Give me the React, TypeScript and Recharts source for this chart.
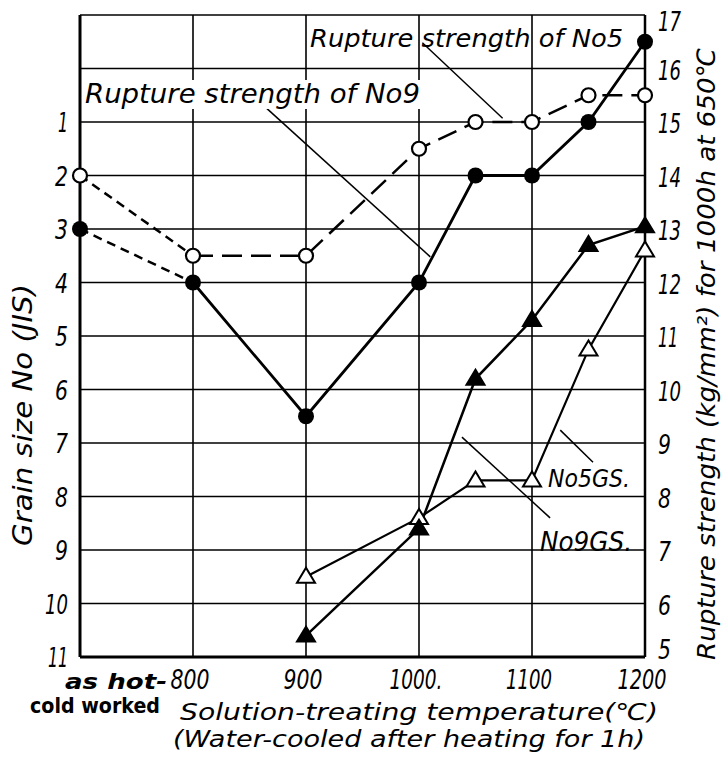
import React from 'react';
import { LineChart, Line, XAxis, YAxis, CartesianGrid, ReferenceLine } from 'recharts';

// 700 stands for "as hot-cold worked"
const TEMPS = [700, 800, 900, 1000, 1050, 1100, 1150, 1200];
const RS_NO5 = [14, 12.5, 12.5, 14.5, 15, 15, 15.5, 15.5];
const RS_NO9 = [13, 12, 9.5, 12, 14, 14, 15, 16.5];
const GS_NO5 = [null, null, 9.5, 8.4, 7.7, 7.7, 5.25, 3.4];
const GS_NO9 = [null, null, 10.6, 8.6, 5.8, 4.7, 3.3, 2.95];

const X_TICKS = [700, 800, 900, 1000, 1100, 1200];
const X_TICK_LABELS = ['as hot-', '800', '900', '1000.', '1100', '1200'];
const GRAIN_TICKS = [1, 2, 3, 4, 5, 6, 7, 8, 9, 10, 11];
const STRENGTH_TICKS = [5, 6, 7, 8, 9, 10, 11, 12, 13, 14, 15, 16, 17];

// leader lines of the notes, in (temperature, strength) units
const LEADERS = [
  [{ x: 1003, y: 16.48 }, { x: 1074, y: 15.07 }],
  [{ x: 865, y: 15.26 }, { x: 1010, y: 12.48 }],
  [{ x: 1125, y: 9.24 }, { x: 1154, y: 8.64 }],
  [{ x: 1038, y: 9.11 }, { x: 1116, y: 7.6 }],
];

const data = TEMPS.map((t, i) => ({
  t,
  rs5Pre: i <= 1 ? RS_NO5[i] : null,
  rs5: i >= 1 ? RS_NO5[i] : null,
  rs9Pre: i <= 1 ? RS_NO9[i] : null,
  rs9: i >= 1 ? RS_NO9[i] : null,
  rs5All: RS_NO5[i],
  rs9All: RS_NO9[i],
  gs5: GS_NO5[i],
  gs9: GS_NO9[i],
}));

const FONT = "'DejaVu Sans', sans-serif";

// rough width of a number label drawn in the narrow hand lettering
const labelWidth = (s: string) =>
  s.split('').reduce((w, c) => w + (c === '.' ? 4 : c === '1' ? 10 : 13), 0);

const dotKey = (p: any) => `${p.dataKey}-${p.index}`;

function OpenCircle(p: any) {
  if (p.cy == null || p.value == null) return <g key={dotKey(p)} />;
  return <circle key={dotKey(p)} cx={p.cx} cy={p.cy} r={7} fill="#fff" stroke="#000" strokeWidth={2.2} />;
}

function FilledCircle(p: any) {
  if (p.cy == null || p.value == null) return <g key={dotKey(p)} />;
  return <circle key={dotKey(p)} cx={p.cx} cy={p.cy} r={8} fill="#000" />;
}

function Triangle(filled: boolean) {
  return (p: any) => {
    if (p.cy == null || p.value == null) return <g key={dotKey(p)} />;
    const { cx, cy } = p;
    const pts = `${cx - 9},${cy + 6} ${cx + 9},${cy + 6} ${cx},${cy - 9}`;
    return (
      <polygon key={dotKey(p)} points={pts} fill={filled ? '#000' : '#fff'} stroke="#000" strokeWidth={2} />
    );
  };
}

function NumText({ x, y, anchor, label }: any) {
  return (
    <text
      x={x}
      y={y}
      textAnchor={anchor}
      fontFamily={FONT}
      fontStyle="italic"
      fontSize={27}
      fill="#000"
      textLength={labelWidth(label)}
      lengthAdjust="spacingAndGlyphs"
    >
      {label}
    </text>
  );
}

function LeftTick({ x, y, payload }: any) {
  return <NumText x={x} y={y + 10} anchor="end" label={String(payload.value)} />;
}

function RightTick({ x, y, payload }: any) {
  const v = payload.value;
  return <NumText x={x} y={y + (v === 5 ? 2 : v === 17 ? 16 : 11)} anchor="start" label={String(v)} />;
}

function BottomTick({ x, y, payload, index }: any) {
  const label = X_TICK_LABELS[index];
  if (payload.value === 700) {
    return (
      <g>
        <text x={x + 36} y={y + 24} textAnchor="middle" fontFamily={FONT} fontWeight="bold" fontStyle="italic" fontSize={22} fill="#000" textLength={102} lengthAdjust="spacingAndGlyphs">
          {label}
        </text>
        <text x={x + 15} y={y + 48} textAnchor="middle" fontFamily={FONT} fontWeight="bold" fontSize={22} fill="#000" textLength={130} lengthAdjust="spacingAndGlyphs">
          cold worked
        </text>
      </g>
    );
  }
  return <NumText x={x - 3} y={y + 24} anchor="middle" label={label} />;
}

const noteStyle = { fontFamily: FONT, fontStyle: 'italic' as const, fill: '#000' };

export default function App() {
  return (
    <div style={{ position: 'absolute', left: 0, top: 0, width: 727, height: 758, background: '#fff' }}>
      <LineChart width={727} height={758} data={data} margin={{ top: 15, right: 22, bottom: 61, left: 20 }}>
        <CartesianGrid yAxisId="right" stroke="#000" strokeWidth={1.6} strokeOpacity={1} />
        <XAxis
          dataKey="t"
          type="number"
          domain={[700, 1200]}
          ticks={X_TICKS}
          height={40}
          tickSize={0}
          tickMargin={8}
          tickLine={false}
          axisLine={{ stroke: '#000', strokeWidth: 3 }}
          tick={<BottomTick />}
        />
        <YAxis
          yAxisId="left"
          orientation="left"
          domain={[-1, 11]}
          reversed
          ticks={GRAIN_TICKS}
          width={60}
          tickSize={0}
          tickMargin={12}
          tickLine={false}
          axisLine={{ stroke: '#000', strokeWidth: 3 }}
          tick={<LeftTick />}
        />
        <YAxis
          yAxisId="right"
          orientation="right"
          domain={[5, 17]}
          ticks={STRENGTH_TICKS}
          width={60}
          tickSize={0}
          tickMargin={13}
          tickLine={false}
          axisLine={{ stroke: '#000', strokeWidth: 2.5 }}
          tick={<RightTick />}
        />
        {LEADERS.map((seg, i) => (
          <ReferenceLine key={i} yAxisId="right" segment={seg} stroke="#000" strokeWidth={1.5} ifOverflow="visible" />
        ))}
        <Line yAxisId="right" dataKey="rs5Pre" stroke="#000" strokeWidth={2.5} strokeDasharray="9 6" dot={false} activeDot={false} isAnimationActive={false} />
        <Line yAxisId="right" dataKey="rs5" stroke="#000" strokeWidth={2.5} strokeDasharray="20 9" dot={false} activeDot={false} isAnimationActive={false} />
        <Line yAxisId="right" dataKey="rs9Pre" stroke="#000" strokeWidth={2.5} strokeDasharray="9 6" dot={false} activeDot={false} isAnimationActive={false} />
        <Line yAxisId="right" dataKey="rs9" stroke="#000" strokeWidth={2.8} dot={false} activeDot={false} isAnimationActive={false} />
        <Line yAxisId="left" dataKey="gs5" stroke="#000" strokeWidth={2.2} dot={Triangle(false)} activeDot={false} isAnimationActive={false} />
        <Line yAxisId="left" dataKey="gs9" stroke="#000" strokeWidth={2.5} dot={Triangle(true)} activeDot={false} isAnimationActive={false} />
        <Line yAxisId="right" dataKey="rs5All" stroke="none" strokeWidth={0} dot={OpenCircle} activeDot={false} isAnimationActive={false} />
        <Line yAxisId="right" dataKey="rs9All" stroke="none" strokeWidth={0} dot={FilledCircle} activeDot={false} isAnimationActive={false} />
      </LineChart>
      <svg width={727} height={758} style={{ position: 'absolute', left: 0, top: 0, pointerEvents: 'none' }}>
        <text x={310} y={47} fontSize={25} textLength={313} lengthAdjust="spacingAndGlyphs" {...noteStyle}>
          Rupture strength of No5
        </text>
        <rect x={84} y={80} width={340} height={29} fill="#fff" />
        <text x={85} y={103} fontSize={27} textLength={335} lengthAdjust="spacingAndGlyphs" {...noteStyle}>
          Rupture strength of No9
        </text>
        <text x={548} y={487} fontSize={25} textLength={82} lengthAdjust="spacingAndGlyphs" {...noteStyle}>
          No5GS.
        </text>
        <text x={540} y={551} fontSize={27} textLength={92} lengthAdjust="spacingAndGlyphs" {...noteStyle}>
          No9GS.
        </text>
        <text x={180} y={720} fontSize={23} textLength={478} lengthAdjust="spacingAndGlyphs" {...noteStyle}>
          Solution-treating temperature(℃)
        </text>
        <text x={173} y={747} fontSize={23} textLength={472} lengthAdjust="spacingAndGlyphs" {...noteStyle}>
          (Water-cooled after heating for 1h)
        </text>
        <text
          x={22}
          y={415}
          transform="rotate(-90 22 415)"
          textAnchor="middle"
          dominantBaseline="central"
          fontSize={27}
          textLength={262}
          lengthAdjust="spacingAndGlyphs"
          {...noteStyle}
        >
          Grain size No (JIS)
        </text>
        <text
          x={706}
          y={354}
          transform="rotate(-90 706 354)"
          textAnchor="middle"
          dominantBaseline="central"
          fontSize={25}
          textLength={612}
          lengthAdjust="spacingAndGlyphs"
          {...noteStyle}
        >
          Rupture strength (kg/mm²) for 1000h at 650℃
        </text>
      </svg>
    </div>
  );
}
